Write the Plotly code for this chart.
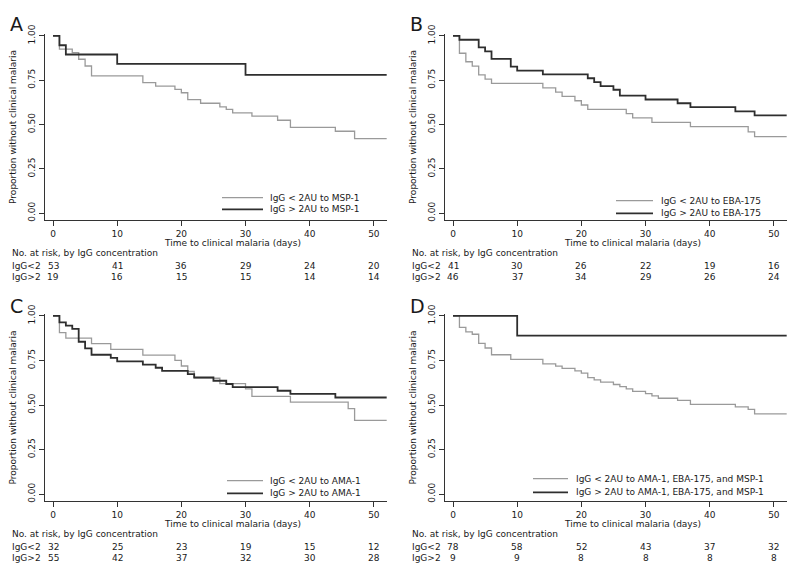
import plotly.graph_objects as go

# Kaplan-Meier steps: (day, proportion)
a_lo_t = [0, 1, 3, 4, 5, 6, 14, 16, 19, 20, 21, 23, 26, 27, 28, 31, 35, 37, 44, 47, 52]
a_lo_s = [1.0, 0.925, 0.906, 0.868, 0.830, 0.774, 0.736, 0.717, 0.698, 0.679, 0.640, 0.620,
          0.600, 0.585, 0.566, 0.547, 0.524, 0.484, 0.462, 0.420, 0.420]
a_hi_t = [0, 1, 2, 10, 30, 52]
a_hi_s = [1.0, 0.947, 0.895, 0.842, 0.780, 0.780]

b_lo_t = [0, 1, 2, 3, 4, 5, 6, 14, 16, 17, 19, 20, 21, 27, 28, 31, 37, 46, 47, 52]
b_lo_s = [1.0, 0.902, 0.854, 0.829, 0.780, 0.756, 0.732, 0.707, 0.683, 0.659, 0.634, 0.610,
          0.585, 0.561, 0.537, 0.512, 0.488, 0.458, 0.432, 0.432]
b_hi_t = [0, 1, 4, 5, 6, 9, 10, 14, 21, 22, 23, 25, 26, 30, 35, 37, 44, 47, 52]
b_hi_s = [1.0, 0.978, 0.935, 0.913, 0.870, 0.826, 0.804, 0.783, 0.761, 0.739, 0.717, 0.696,
          0.663, 0.641, 0.620, 0.598, 0.574, 0.552, 0.552]

c_lo_t = [0, 1, 2, 6, 9, 14, 19, 20, 21, 22, 26, 30, 31, 37, 46, 47, 52]
c_lo_s = [1.0, 0.906, 0.875, 0.844, 0.812, 0.780, 0.750, 0.719, 0.688, 0.650, 0.620, 0.590,
          0.548, 0.516, 0.480, 0.414, 0.414]
c_hi_t = [0, 1, 2, 3, 4, 5, 6, 9, 10, 14, 16, 17, 21, 22, 25, 27, 28, 35, 37, 44, 52]
c_hi_s = [1.0, 0.964, 0.945, 0.927, 0.855, 0.818, 0.782, 0.764, 0.745, 0.727, 0.709, 0.691,
          0.673, 0.655, 0.636, 0.618, 0.600, 0.580, 0.562, 0.542, 0.542]

d_lo_t = [0, 1, 2, 3, 4, 5, 6, 9, 14, 16, 17, 19, 20, 21, 22, 23, 25, 26, 27, 28, 30, 31, 32,
          35, 37, 44, 46, 47, 52]
d_lo_s = [1.0, 0.936, 0.910, 0.897, 0.846, 0.820, 0.782, 0.756, 0.731, 0.718, 0.705, 0.692,
          0.679, 0.654, 0.641, 0.628, 0.615, 0.603, 0.590, 0.577, 0.564, 0.551, 0.538, 0.526,
          0.503, 0.490, 0.476, 0.450, 0.450]
d_hi_t = [0, 10, 52]
d_hi_s = [1.0, 0.889, 0.889]

# numbers at risk
risk_days = [0, 10, 20, 30, 40, 50]
a_risk_lo = [53, 41, 36, 29, 24, 20]
a_risk_hi = [19, 16, 15, 15, 14, 14]
b_risk_lo = [41, 30, 26, 22, 19, 16]
b_risk_hi = [46, 37, 34, 29, 26, 24]
c_risk_lo = [32, 25, 23, 19, 15, 12]
c_risk_hi = [55, 42, 37, 32, 30, 28]
d_risk_lo = [78, 58, 52, 43, 37, 32]
d_risk_hi = [9, 9, 8, 8, 8, 8]

a_names = ['IgG < 2AU to MSP-1', 'IgG > 2AU to MSP-1']
b_names = ['IgG < 2AU to EBA-175', 'IgG > 2AU to EBA-175']
c_names = ['IgG < 2AU to AMA-1', 'IgG > 2AU to AMA-1']
d_names = ['IgG < 2AU to AMA-1, EBA-175, and MSP-1', 'IgG > 2AU to AMA-1, EBA-175, and MSP-1']

W, H = 800, 572
FONT = 'DejaVu Sans'
TXT = '#1a1a1a'
GRAY = '#9a9a9a'
DARK = '#2e2e2e'


def px(p):
    return p / W


def py(p):
    return 1 - p / H


panels = [
    dict(letter='A', left=0, top=0, lo=(a_lo_t, a_lo_s), hi=(a_hi_t, a_hi_s),
         rlo=a_risk_lo, rhi=a_risk_hi, names=a_names, leg=(222, 263, 268, 192, 204)),
    dict(letter='B', left=400, top=0, lo=(b_lo_t, b_lo_s), hi=(b_hi_t, b_hi_s),
         rlo=b_risk_lo, rhi=b_risk_hi, names=b_names, leg=(216, 253, 259, 195, 208)),
    dict(letter='C', left=0, top=287, lo=(c_lo_t, c_lo_s), hi=(c_hi_t, c_hi_s),
         rlo=c_risk_lo, rhi=c_risk_hi, names=c_names, leg=(227, 263, 268, 193, 206)),
    dict(letter='D', left=400, top=287, lo=(d_lo_t, d_lo_s), hi=(d_hi_t, d_hi_s),
         rlo=d_risk_lo, rhi=d_risk_hi, names=d_names, leg=(133, 168, 174, 191, 205)),
]

fig = go.Figure()
annotations = []
shapes = []

for i, p in enumerate(panels):
    k = '' if i == 0 else str(i + 1)
    L, T = p['left'], p['top']
    x0, x1 = L + 45, L + 387
    y0, y1 = T + 25, T + 215
    if T > 0:
        y0, y1 = T + 23, T + 214

    fig.add_trace(go.Scatter(x=p['lo'][0], y=p['lo'][1], mode='lines', line_shape='hv',
                             line=dict(color=GRAY, width=1.3), showlegend=False,
                             xaxis='x' + k, yaxis='y' + k))
    fig.add_trace(go.Scatter(x=p['hi'][0], y=p['hi'][1], mode='lines', line_shape='hv',
                             line=dict(color=DARK, width=1.8), showlegend=False,
                             xaxis='x' + k, yaxis='y' + k))

    ax = dict(domain=[px(x0), px(x1)], range=[-1.25, 52.05], tickvals=risk_days,
              showgrid=False, zeroline=False, showline=True, linecolor='#333', linewidth=1,
              ticks='outside', ticklen=5, tickcolor='#333',
              tickfont=dict(family=FONT, size=9, color=TXT),
              anchor='y' + k)
    ay = dict(domain=[py(y1), py(y0)], range=[-0.04, 1.013],
              tickvals=[0, 0.25, 0.5, 0.75, 1.0], ticktext=['0.00', '0.25', '0.50', '0.75', '1.00'],
              tickangle=-90, showgrid=False, zeroline=False, showline=True, linecolor='#333',
              linewidth=1, ticks='outside', ticklen=5, tickcolor='#333',
              tickfont=dict(family=FONT, size=9, color=TXT), anchor='x' + k)
    fig.update_layout({'xaxis' + k: ax, 'yaxis' + k: ay})

    # panel letter
    annotations.append(dict(text=p['letter'], x=px(L + 8), y=py(T + 15), xref='paper', yref='paper',
                            xanchor='left', yanchor='middle', showarrow=False,
                            font=dict(family=FONT, size=19, color=TXT)))
    # y axis title
    annotations.append(dict(text='Proportion without clinical malaria', textangle=-90,
                            x=px(L + 13), y=py((y0 + y1) / 2), xref='paper', yref='paper',
                            xanchor='center', yanchor='middle', showarrow=False,
                            font=dict(family=FONT, size=9, color=TXT)))
    # x axis title
    annotations.append(dict(text='Time to clinical malaria (days)', x=28, xref='x' + k,
                            y=py(y1 + 23), yref='paper', xanchor='center', yanchor='middle',
                            showarrow=False, font=dict(family=FONT, size=9, color=TXT)))
    # risk table
    annotations.append(dict(text='No. at risk, by IgG concentration', x=px(L + 10),
                            y=py(y1 + 33), xref='paper', yref='paper', xanchor='left',
                            yanchor='middle', showarrow=False,
                            font=dict(family=FONT, size=9, color=TXT)))
    for lab, vals, dy in [('IgG<2', p['rlo'], 47), ('IgG>2', p['rhi'], 58)]:
        annotations.append(dict(text=lab, x=px(L + 10), y=py(y1 + dy), xref='paper', yref='paper',
                                xanchor='left', yanchor='middle', showarrow=False,
                                font=dict(family=FONT, size=9, color=TXT)))
        for d, v in zip(risk_days, vals):
            annotations.append(dict(text=str(v), x=d, xref='x' + k, y=py(y1 + dy), yref='paper',
                                    xanchor='center', yanchor='middle', showarrow=False,
                                    font=dict(family=FONT, size=9, color=TXT)))

    # legend drawn by hand
    lx0, lx1, tx, r1, r2 = p['leg']
    for (name, col, w, r) in [(p['names'][0], GRAY, 1.3, r1), (p['names'][1], DARK, 1.8, r2)]:
        shapes.append(dict(type='line', xref='paper', yref='paper', x0=px(L + lx0), x1=px(L + lx1),
                           y0=py(T + r), y1=py(T + r), line=dict(color=col, width=w)))
        annotations.append(dict(text=name, x=px(L + tx), y=py(T + r), xref='paper', yref='paper',
                                xanchor='left', yanchor='middle', showarrow=False,
                                font=dict(family=FONT, size=9, color=TXT)))

fig.update_layout(width=W, height=H, margin=dict(l=0, r=0, t=0, b=0),
                  paper_bgcolor='white', plot_bgcolor='white',
                  annotations=annotations, shapes=shapes, showlegend=False)

# drop the default page margin so the 800x572 figure fills the window
fig.write_html("out.html", config={'displayModeBar': False},
               post_script="document.body.style.margin='0';")
